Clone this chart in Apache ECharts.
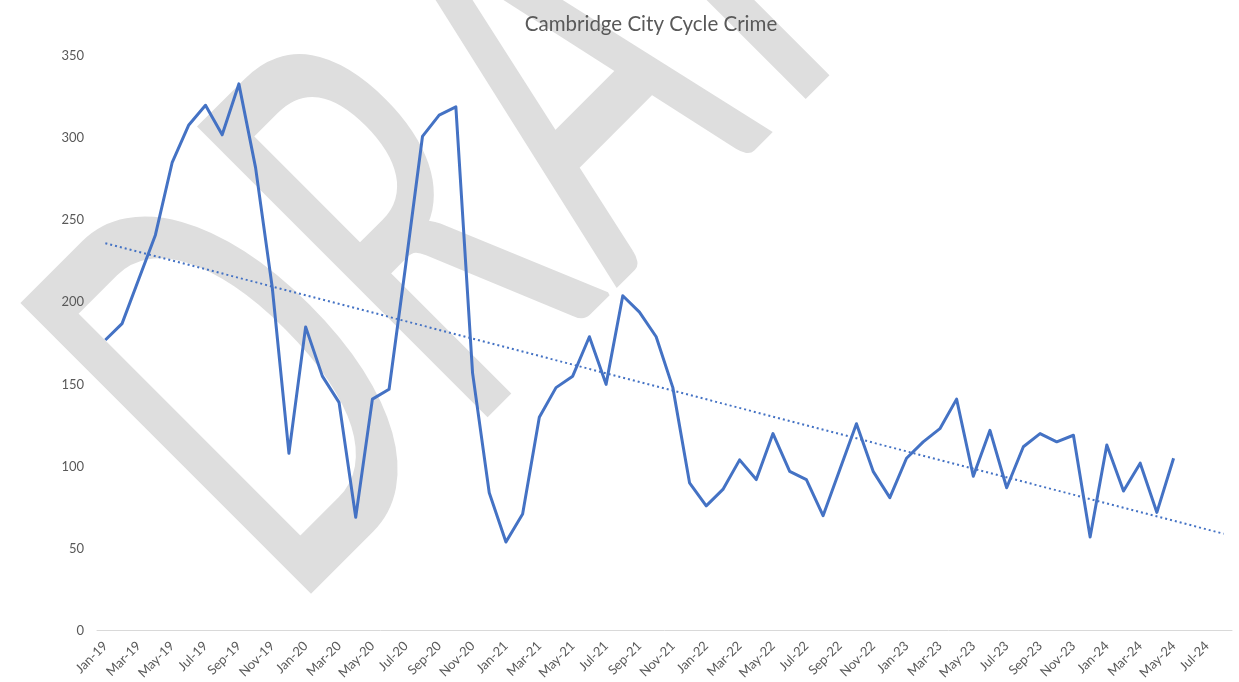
<!DOCTYPE html>
<html>
<head>
<meta charset="utf-8">
<script src="https://cdn.jsdelivr.net/npm/echarts@6/dist/echarts.min.js"></script>
<style>
  html, body { margin: 0; padding: 0; background: #fff; }
  #main { width: 1239px; height: 682px; }
</style>
</head>
<body>
<div id="main"></div>
<script>
// months on the axis, Jan-19 .. Aug-24
const months = ['Jan','Feb','Mar','Apr','May','Jun','Jul','Aug','Sep','Oct','Nov','Dec'];
const categories = [];
for (let y = 19; y <= 24; y++) {
  for (let m = 0; m < 12; m++) {
    if (y === 24 && m > 7) break;
    categories.push(months[m] + '-' + y);
  }
}

// monthly cycle crime counts, Jan-19 .. May-24
const crimes = [
  177, 187, 214, 241, 285, 308, 320, 302, 333, 282, 209, 108,
  185, 155, 139, 69, 141, 147, 223, 301, 314, 319, 157, 84,
  54, 71, 130, 148, 155, 179, 150, 204, 194, 179, 148, 90,
  76, 86, 104, 92, 120, 97, 92, 70, 98, 126, 97, 81,
  105, 115, 123, 141, 94, 122, 87, 112, 120, 115, 119, 57,
  113, 85, 102, 72, 105
];

// linear trendline ends (Jan-19 and Aug-24)
const trendStart = 236;
const trendEnd = 59;

// watermark letters and their centres along the slanted baseline
const markLetters = ['D', 'R', 'A', 'F', 'T'];
const markCentres = [104, 332, 552, 772, 960];

const crimeData = categories.map((c, i) => i < crimes.length ? crimes[i] : null);
const trendData = categories.map((c, i) => i === 0 ? trendStart : (i === categories.length - 1 ? trendEnd : null));

const chart = echarts.init(document.getElementById('main'));

const option = {
  animation: false,
  backgroundColor: '#fff',
  title: {
    text: 'Cambridge City Cycle Crime',
    left: 646,
    top: 9,
    textAlign: 'center',
    textStyle: { fontFamily: 'Lato', fontSize: 20.5, fontWeight: 'normal', color: '#595959' }
  },
  graphic: [{
    type: 'group',
    x: 300,
    y: 596,
    rotation: Math.PI / 4,
    z: -10,
    silent: true,
    children: markLetters.map((ch, i) => ({
      type: 'text',
      x: markCentres[i],
      y: 105,
      scaleX: 0.57,
      style: {
        text: ch,
        font: 'normal 568px Lato',
        fill: '#dedede',
        stroke: '#dedede',
        lineWidth: 4,
        lineJoin: 'round',
        align: 'center',
        verticalAlign: 'bottom'
      }
    }))
  }],
  grid: { left: 97, right: 7, top: 56, bottom: 51, containLabel: false },
  xAxis: {
    type: 'category',
    data: categories,
    boundaryGap: true,
    axisLine: { lineStyle: { color: '#d9d9d9', width: 1 } },
    axisTick: { interval: 1, length: 5, lineStyle: { color: '#d9d9d9' } },
    axisLabel: {
      interval: 1,
      rotate: 45,
      margin: 13,
      color: '#595959',
      fontFamily: 'Lato',
      fontSize: 13
    },
    splitLine: { show: false }
  },
  yAxis: {
    type: 'value',
    min: 0,
    max: 350,
    interval: 50,
    axisLine: { show: false },
    axisTick: { show: false },
    axisLabel: { color: '#595959', fontFamily: 'Lato', fontSize: 13, margin: 13 },
    splitLine: { show: false }
  },
  series: [
    {
      name: 'Cycle crime',
      type: 'line',
      data: crimeData,
      symbol: 'none',
      lineStyle: { color: '#4472C4', width: 3, join: 'round' },
      z: 3
    },
    {
      name: 'Trend',
      type: 'line',
      data: trendData,
      connectNulls: true,
      symbol: 'none',
      lineStyle: { color: '#4472C4', width: 2, type: [2, 3] },
      z: 2
    }
  ]
};

chart.setOption(option);
</script>
</body>
</html>
